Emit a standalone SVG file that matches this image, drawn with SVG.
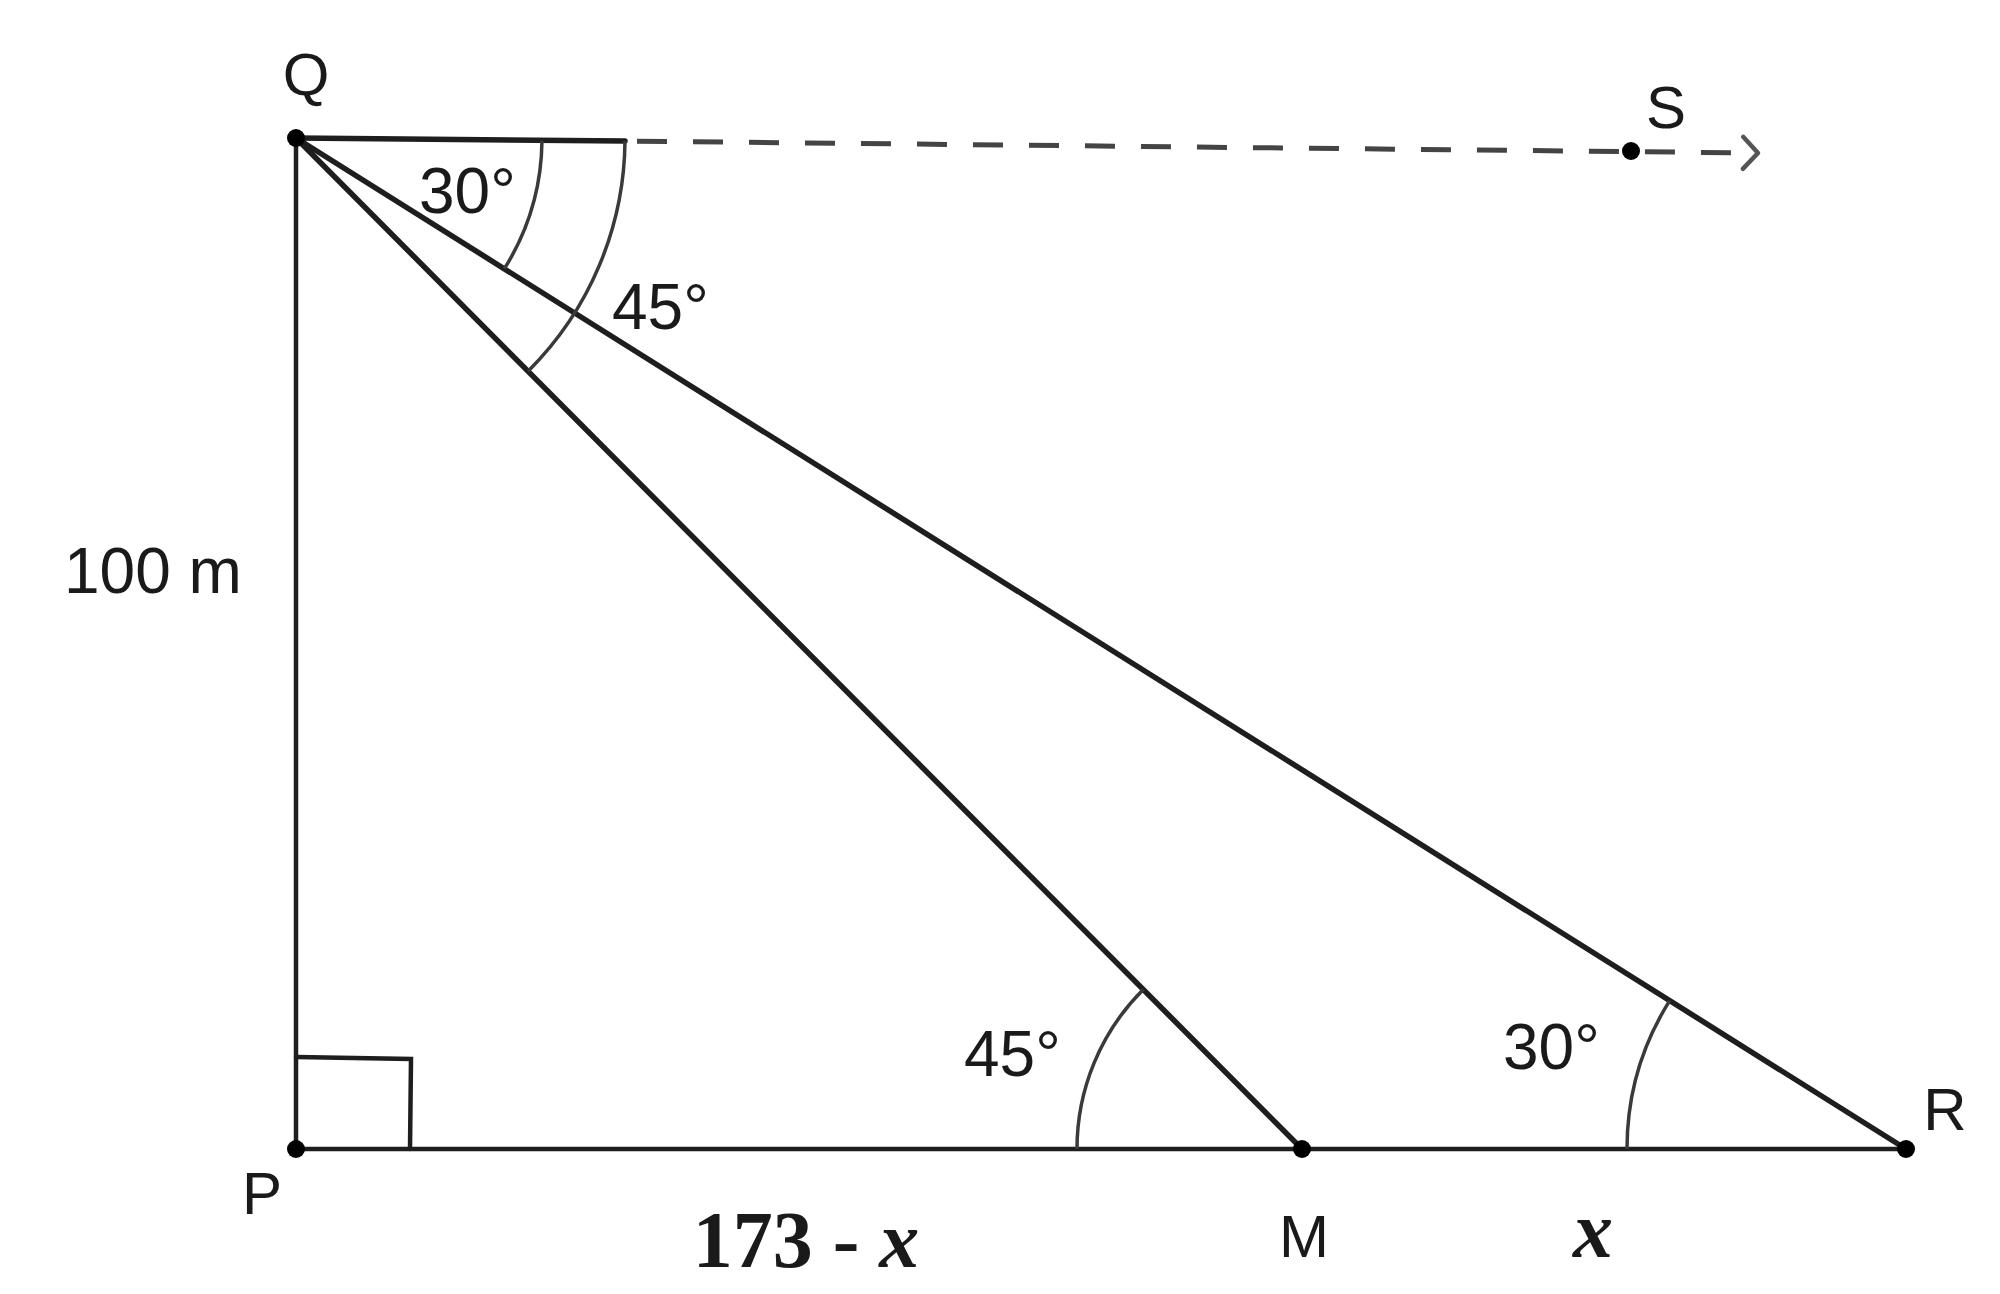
<svg xmlns="http://www.w3.org/2000/svg" width="2000" height="1294" viewBox="0 0 2000 1294">
<defs>
<style>
.ln{stroke:#1e1e1e;stroke-width:4.5;fill:none;stroke-linecap:round}
.thk{stroke-width:5.5}
.arc{stroke:#3a3a3a;stroke-width:3.5;fill:none}
.dot{fill:#000}
.lbl{font-family:"Liberation Sans",Arial,sans-serif;font-size:60px;fill:#1a1a1a}
.ang{font-family:"Liberation Sans",Arial,sans-serif;font-size:64px;fill:#1a1a1a}
.ser{font-family:"Liberation Serif","Times New Roman",serif;font-size:80px;font-weight:bold;fill:#1a1a1a}
</style>
<marker id="chev" markerWidth="30" markerHeight="40" refX="24" refY="20" orient="auto" markerUnits="userSpaceOnUse">
<path d="M9,4 L24,20 L9,36" fill="none" stroke="#555" stroke-width="4.5" stroke-linecap="round" stroke-linejoin="round"/>
</marker>
</defs>
<rect width="2000" height="1294" fill="#fff"/>
<g id="connectors">
<line class="ln" x1="296" y1="138" x2="296" y2="1149"/>
<line class="ln" x1="296" y1="1149" x2="1906" y2="1149"/>
<line class="ln thk" x1="296" y1="138" x2="1302" y2="1149"/>
<line class="ln thk" x1="296" y1="138" x2="1906" y2="1149"/>
<line class="ln thk" x1="296" y1="138" x2="625" y2="141"/>
<line x1="625" y1="141" x2="1758" y2="153" stroke="#444" stroke-width="5" stroke-dasharray="30,26" stroke-dashoffset="-12" marker-end="url(#chev)"/>
<path class="ln" d="M296,1057 L411,1059 L410,1149" stroke-width="3.5"/>
<path class="arc" d="M542,140.5 A246,246 0 0 1 504.3,268.8"/>
<path class="arc" d="M625,141 A329,329 0 0 1 528.1,371.2"/>
<path class="arc" d="M1077,1149 A225,225 0 0 1 1143.3,989.5"/>
<path class="arc" d="M1627,1149 A279,279 0 0 1 1669.7,1000.6"/>
</g>
<g id="node-Q">
<circle class="dot" cx="296" cy="138" r="9"/>
<text class="lbl" x="306" y="95" text-anchor="middle">Q</text>
</g>
<g id="node-P">
<circle class="dot" cx="296" cy="1149" r="9"/>
<text class="lbl" x="262" y="1214" text-anchor="middle">P</text>
</g>
<g id="node-M">
<circle class="dot" cx="1302" cy="1149" r="9"/>
<text class="lbl" x="1304" y="1257" text-anchor="middle">M</text>
</g>
<g id="node-R">
<circle class="dot" cx="1906" cy="1149" r="9"/>
<text class="lbl" x="1945" y="1130" text-anchor="middle">R</text>
</g>
<g id="node-S">
<circle class="dot" cx="1631" cy="151" r="9"/>
<text class="lbl" x="1666" y="128" text-anchor="middle">S</text>
</g>
<g id="labels">
<text class="ang" x="419" y="213">30°</text>
<text class="ang" x="612" y="329">45°</text>
<text class="ang" x="964" y="1076">45°</text>
<text class="ang" x="1503" y="1069">30°</text>
<text class="ang" x="64" y="593">100 m</text>
<text class="ser" x="806" y="1267" text-anchor="middle">173 - <tspan font-style="italic">x</tspan></text>
<text class="ser" x="1593" y="1257" text-anchor="middle" font-style="italic">x</text>
</g>
</svg>
